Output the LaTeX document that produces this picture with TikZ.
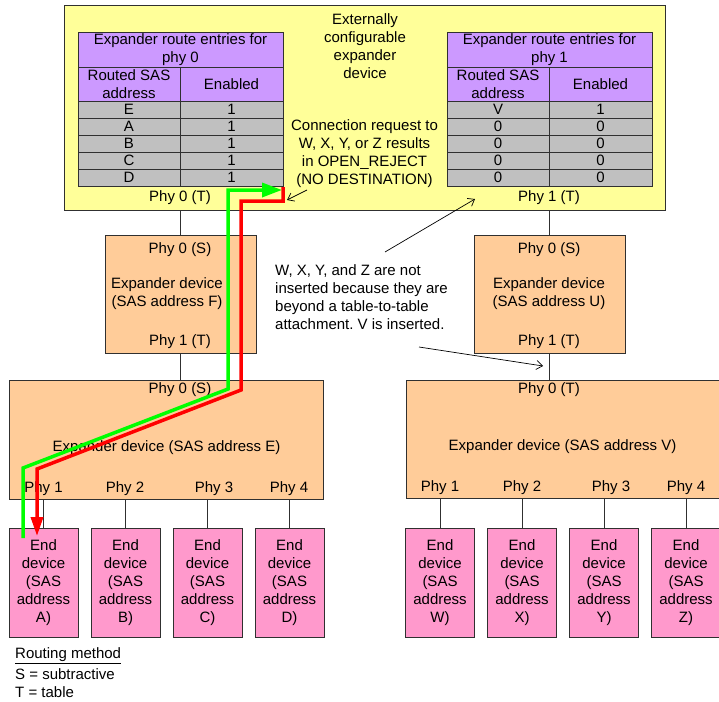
\documentclass[tikz,border=0pt]{standalone}
\usepackage{fontspec}
\setmainfont{Liberation Sans}
\usetikzlibrary{arrows.meta}
\definecolor{yel}{HTML}{FFFF99}
\definecolor{purp}{HTML}{CC99FF}
\definecolor{grayrow}{HTML}{C0C0C0}
\definecolor{orng}{HTML}{FFCC99}
\definecolor{pnk}{HTML}{FF99CC}
\definecolor{edgec}{HTML}{303030}
\definecolor{grn}{HTML}{00FF00}
\definecolor{rd}{HTML}{FF0000}
\frenchspacing
\begin{document}
\begin{tikzpicture}[x=1pt,y=-1pt,
  every node/.style={font=\fontsize{15}{18}\selectfont},
  boxnode/.style={draw=edgec, line width=0.8pt, inner sep=0pt, align=center},
  cell/.style={draw=edgec, line width=0.8pt, inner sep=0pt, align=center, fill=grayrow, minimum height=17pt},
  txt/.style={inner sep=0pt, align=center},
  conn/.style={draw=edgec, line width=0.8pt},
  note/.style={draw=black, line width=0.7pt, -{Straight Barb[length=6pt,width=9pt]}},
  grnpath/.style={draw=grn, line width=3.5pt, -{Triangle[length=20pt,width=14pt]}},
  rdpath/.style={draw=rd, line width=3.5pt, -{Triangle[length=19pt,width=12pt]}}
]
\useasboundingbox (0,0) rectangle (719,701);

% top configurable expander
\node[boxnode, fill=yel, minimum width=601pt, minimum height=205pt] (top) at (364.5,107.5) {};
\node[txt] (toptitle) at (365,46) {Externally\\configurable\\expander\\device};
\node[txt] (reqtxt) at (364.5,154) {Connection request to\\W, X, Y, or Z results\\in OPEN\_REJECT\\(NO DESTINATION)};

% left table
\node[boxnode, fill=purp, minimum width=205pt, minimum height=35pt] (lhdr) at (180.5,49.5) {Expander route entries for\\phy 0};
\node[boxnode, fill=purp, minimum width=102pt, minimum height=34pt] (lcola) at (129,84) {Routed SAS\\address};
\node[boxnode, fill=purp, minimum width=103pt, minimum height=34pt] (lcolb) at (231.5,84) {Enabled};
\foreach \i/\a/\b in {0/E/1,1/A/1,2/B/1,3/C/1,4/D/1}{
  \node[cell, minimum width=102pt] (la\i) at (129,109.5+17*\i) {\a};
  \node[cell, minimum width=103pt] (lb\i) at (231.5,109.5+17*\i) {\b};
}
\node[txt] (lphy) at (180,198) {Phy 0 (T)};

% right table
\node[boxnode, fill=purp, minimum width=205pt, minimum height=35pt] (rhdr) at (549.5,49.5) {Expander route entries for\\phy 1};
\node[boxnode, fill=purp, minimum width=102pt, minimum height=34pt] (rcola) at (498,84) {Routed SAS\\address};
\node[boxnode, fill=purp, minimum width=103pt, minimum height=34pt] (rcolb) at (600.5,84) {Enabled};
\foreach \i/\a/\b in {0/V/1,1/0/0,2/0/0,3/0/0,4/0/0}{
  \node[cell, minimum width=102pt] (ra\i) at (498,109.5+17*\i) {\a};
  \node[cell, minimum width=103pt] (rb\i) at (600.5,109.5+17*\i) {\b};
}
\node[txt] (rphy) at (549,198) {Phy 1 (T)};

% expander F
\node[boxnode, fill=orng, minimum width=151pt, minimum height=118pt] (F) at (180.5,294) {};
\node[txt] at (180,250) {Phy 0 (S)};
\node[txt] at (167,294) {Expander device\\(SAS address F)};
\node[txt] at (180,342) {Phy 1 (T)};

% expander U
\node[boxnode, fill=orng, minimum width=151pt, minimum height=118pt] (U) at (549.5,294) {};
\node[txt] at (549,250) {Phy 0 (S)};
\node[txt] at (549,294) {Expander device\\(SAS address U)};
\node[txt] at (549,342) {Phy 1 (T)};

% expander E
\node[boxnode, fill=orng, minimum width=314pt, minimum height=119pt] (E) at (166,439.5) {};
\node[txt] at (180,390) {Phy 0 (S)};
\node[txt] at (166.5,448) {Expander device (SAS address E)};
\node[txt] at (43.5,489) {Phy 1};
\node[txt] at (125,489) {Phy 2};
\node[txt] at (214,489) {Phy 3};
\node[txt] at (289,489) {Phy 4};

% expander V
\node[boxnode, fill=orng, minimum width=314pt, minimum height=118pt] (V) at (563,439) {};
\node[txt] at (549,390) {Phy 0 (T)};
\node[txt] at (562.5,447) {Expander device (SAS address V)};
\node[txt] at (440,488) {Phy 1};
\node[txt] at (522,488) {Phy 2};
\node[txt] at (611,488) {Phy 3};
\node[txt] at (686,488) {Phy 4};

% end devices
\foreach \n/\x/\l in {A/43.5/A,B/125.5/B,C/207.5/C,D/289.5/D,W/440/W,X/522/X,Y/604/Y,Z/686/Z}{
  \node[boxnode, fill=pnk, minimum width=69pt, minimum height=109pt] (\n) at (\x,582.5) {End\\device\\(SAS\\address\\\l)};
}

% connectors
\draw[conn] (F.north) -- (F.north |- top.south);
\draw[conn] (F.south) -- (F.south |- E.north);
\draw[conn] (U.north) -- (U.north |- top.south);
\draw[conn] (U.south) -- (U.south |- V.north);
\foreach \n/\p in {A/E,B/E,C/E,D/E,W/V,X/V,Y/V,Z/V}{
  \draw[conn] (\n.north) -- (\n.north |- \p.south);
}

% annotation
\node[txt, align=left, anchor=west] (wxyz) at (275,297) {W, X, Y, and Z are not\\inserted because they are\\beyond a table-to-table\\attachment. V is inserted.};
\coordinate (n1s) at (385,252);
\coordinate (n1e) at (475,199);
\coordinate (n2s) at (419,347);
\coordinate (n2e) at (543,366);
\coordinate (n3s) at (307,190);
\coordinate (n3e) at (287,200);
\draw[note] (n1s) -- (n1e);
\draw[note] (n2s) -- (n2e);
\draw[note] (n3s) -- (n3e);

% legend
\node[txt, anchor=west] (leg1) at (15,656) {\underline{Routing method}};
\node[txt, anchor=west] (leg2) at (15,674) {S = subtractive};
\node[txt, anchor=west] (leg3) at (15,692) {T = table};

% paths
\coordinate (g0) at (23,538);
\coordinate (g1) at (23,468);
\coordinate (g2) at (228,389);
\coordinate (g3) at (228,190);
\coordinate (g4) at (282,190);
\draw[grnpath] (g0) -- (g1) -- (g2) -- (g3) -- (g4);
\coordinate (r0) at (283,187);
\coordinate (r1) at (283,201);
\coordinate (r2) at (241,201);
\coordinate (r3) at (241,390);
\coordinate (r4) at (37,469);
\coordinate (r5) at (37,536);
\draw[rdpath] (r0) -- (r1) -- (r2) -- (r3) -- (r4) -- (r5);
\end{tikzpicture}
\end{document}
